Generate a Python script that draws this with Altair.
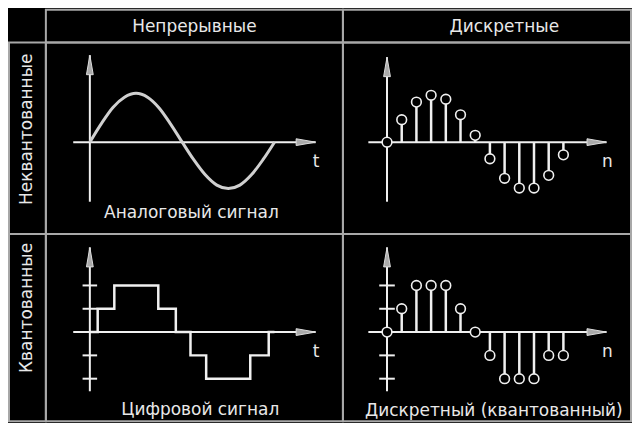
import altair as alt
import pandas as pd

# ---------------- text ----------------
col_headers = ["Непрерывные", "Дискретные"]
row_headers = ["Неквантованные", "Квантованные"]
captions = ["Аналоговый сигнал", "", "Цифровой сигнал", "Дискретный (квантованный)"]
axis_names = ["t", "n", "t", "n"]

# ---------------- data ----------------
# analog signal (one period; peak = 1)
analog_t = list(range(17))
analog_a = [0, 0.38, 0.71, 0.92, 1.0, 0.92, 0.70, 0.37, 0, -0.36, -0.67, -0.88,
            -0.95, -0.88, -0.67, -0.36, 0]

# discrete (sampled, not quantized)
disc_n = list(range(13))
disc_a = [0, 0.46, 0.82, 0.96, 0.88, 0.56, 0.14, -0.34, -0.74, -0.94, -0.94, -0.68, -0.26]

# digital (quantized, continuous time) : step change times and levels
dig_t = [0, 0.68, 2.12, 5.93, 7.45, 8.72, 10.08, 13.9, 15.5, 16.0]
dig_level = [0, 1, 2, 1, 0, -1, -2, -1, 0, 0]

# discrete quantized levels
dq_level = [0, 1, 2, 2, 2, 1, 0, -1, -2, -2, -2, -1, -1]

level_ticks = [-2, -1, 1, 2]

# ---------------- style ----------------
FONT = "DejaVu Sans"
FS = 17
TXT = "#e8e8e8"
LINE = "#f0f0f0"
GRID = "#a8a8a8"
UP = "M0,0 L0.35,2 L-0.35,2 Z"
RIGHT = "M0,0 L-2,0.35 L-2,-0.35 Z"

L, W1, W2 = 37, 298, 289
H0, H1, H2 = 33, 192, 188

panels = [
    dict(w=W1, h=H1, xdom=[-3.81, 21.93], ydom=[-1.88, 2.04], xax=[-1.44, 19.56], yax=[-1.22, 1.78],
         lab=(19.6, -0.40), cap=(8.8, -1.45), ticks=None),
    dict(w=W2, h=H1, xdom=[-3.0, 16.6], ydom=[-1.88, 2.04], xax=[-1.27, 14.93], yax=[-1.22, 1.74],
         lab=(15.0, -0.40), cap=(7.3, -1.45), ticks=None),
    dict(w=W1, h=H2, xdom=[-3.81, 21.93], ydom=[-3.83, 4.21], xax=[-1.44, 19.56], yax=[-2.54, 3.63],
         lab=(19.6, -0.85), cap=(9.57, -3.33), ticks=[-0.63, 0.63]),
    dict(w=W2, h=H2, xdom=[-3.0, 16.6], ydom=[-3.83, 4.21], xax=[-1.27, 14.93], yax=[-2.54, 3.63],
         lab=(15.0, -0.85), cap=(7.27, -3.38), ticks=[-0.53, 0.53]),
]


def build_panel(i, kind):
    p = panels[i]
    xs = alt.Scale(domain=p["xdom"], nice=False, zero=False)
    ys = alt.Scale(domain=p["ydom"], nice=False, zero=False)

    def X(f):
        return alt.X(f, type="quantitative", scale=xs, axis=None)

    def Y(f):
        return alt.Y(f, type="quantitative", scale=ys, axis=None)

    rules = pd.DataFrame({
        "x": [p["xax"][0], 0], "x2": [p["xax"][1], 0],
        "y": [0, p["yax"][0]], "y2": [0, p["yax"][1]],
    })
    layers = [alt.Chart(rules).mark_rule(color=LINE, strokeWidth=2).encode(
        x=X("x"), x2=alt.X2("x2"), y=Y("y"), y2=alt.Y2("y2"))]

    if p["ticks"] is not None:
        tk = pd.DataFrame({"x": [p["ticks"][0]] * 4, "x2": [p["ticks"][1]] * 4, "y": level_ticks})
        layers.append(alt.Chart(tk).mark_rule(color=LINE, strokeWidth=2).encode(
            x=X("x"), x2=alt.X2("x2"), y=Y("y")))

    if kind == "analog":
        df = pd.DataFrame({"x": analog_t, "y": analog_a})
        layers.append(alt.Chart(df).mark_line(color="#d0d0d0", strokeWidth=3, interpolate="monotone").encode(
            x=X("x"), y=Y("y")))
    elif kind == "digital":
        df = pd.DataFrame({"x": dig_t, "y": dig_level})
        layers.append(alt.Chart(df).mark_line(color=LINE, strokeWidth=2.5, interpolate="step-after").encode(
            x=X("x"), y=Y("y")))
    else:
        vals = disc_a if kind == "discrete" else dq_level
        df = pd.DataFrame({"x": disc_n, "y": vals, "y0": [0] * len(vals)})
        layers.append(alt.Chart(df).mark_rule(color=LINE, strokeWidth=2.5).encode(
            x=X("x"), y=Y("y0"), y2=alt.Y2("y")))
        layers.append(alt.Chart(df).mark_point(shape="circle", size=95, filled=False, fill="black",
                                               stroke=LINE, strokeWidth=1.6, opacity=1).encode(
            x=X("x"), y=Y("y")))

    arrows = pd.DataFrame({"x": [0, p["xax"][1]], "y": [p["yax"][1], 0], "dir": ["up", "right"]})
    layers.append(alt.Chart(arrows).mark_point(size=380, filled=True, fill="#aaaaaa", stroke="#dddddd",
                                               strokeWidth=1, opacity=1).encode(
        x=X("x"), y=Y("y"),
        shape=alt.Shape("dir:N", scale=alt.Scale(domain=["up", "right"], range=[UP, RIGHT]), legend=None)))

    labs = pd.DataFrame({"x": [p["lab"][0], p["cap"][0]], "y": [p["lab"][1], p["cap"][1]],
                         "t": [axis_names[i], captions[i]]})
    layers.append(alt.Chart(labs).mark_text(font=FONT, fontSize=FS, color=TXT, align="center",
                                            baseline="middle").encode(
        x=X("x"), y=Y("y"), text="t:N"))

    return alt.layer(*layers).properties(width=p["w"], height=p["h"])


def text_cell(label, w, h, xpos, ypos, angle=0, align="center", stroke=GRID):
    df = pd.DataFrame({"label": [label]})
    return alt.Chart(df).mark_text(angle=angle, align=align, baseline="middle", font=FONT,
                                   fontSize=FS, color=TXT).encode(
        text="label:N", x=alt.value(xpos), y=alt.value(ypos)
    ).properties(width=w, height=h, view=alt.ViewBackground(stroke=stroke, strokeWidth=2))


corner = text_cell("", L, H0, L / 2, H0 / 2, stroke="transparent")
head1 = text_cell(col_headers[0], W1, H0, W1 * 0.5, H0 / 2 + 1)
head2 = text_cell(col_headers[1], W2, H0, W2 * 0.56, H0 / 2 + 1)
rl1 = text_cell(row_headers[0], L, H1, L / 2, 11, angle=270, align="right")
rl2 = text_cell(row_headers[1], L, H2, L / 2, 9, angle=270, align="right")

p11 = build_panel(0, "analog")
p12 = build_panel(1, "discrete")
p21 = build_panel(2, "digital")
p22 = build_panel(3, "dq")

chart = alt.concat(
    corner, head1, head2,
    rl1, p11, p12,
    rl2, p21, p22,
    columns=3, spacing=0, bounds="flush",
).resolve_scale(x="independent", y="independent", shape="independent").properties(
    padding=0, background="black"
).configure_view(stroke=GRID, strokeWidth=2)

chart.save("out.html", embed_options={"renderer": "svg", "actions": False})
